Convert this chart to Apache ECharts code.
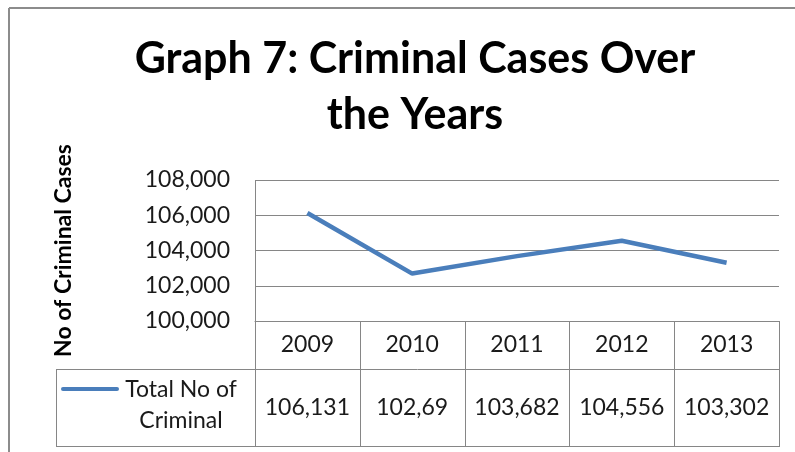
<!DOCTYPE html>
<html>
<head>
<meta charset="utf-8">
<script src="https://cdn.jsdelivr.net/npm/echarts@6/dist/echarts.min.js"></script>
<style>
html,body{margin:0;padding:0;background:#fff;}
#c{width:795px;height:452px;}
</style>
</head>
<body>
<div id="c"></div>
<script>
var years = ['2009', '2010', '2011', '2012', '2013'];
var values = [106131, 102690, 103682, 104556, 103302];
var tableLabels = ['106,131', '102,69', '103,682', '104,556', '103,302'];
var seriesName = 'Total No of Criminal';
var yMin = 100000, yMax = 108000, yStep = 2000;

var FONT = 'Lato';
var TXT = '#1a1a1a';
var GRID_C = '#868686';
var L = 255, T = 180, W = 524, H = 141;
var row1B = 369, row2B = 446, legL = 56;

var chart = echarts.init(document.getElementById('c'));

function fmt(v){ return String(v).replace(/\B(?=(\d{3})+(?!\d))/g, ','); }

var graphics = [];
// outer chart border (top + left)
graphics.push({type:'line', shape:{x1:9, y1:8, x2:800, y2:8}, style:{stroke:'#8c8c8c', lineWidth:2}});
graphics.push({type:'line', shape:{x1:9, y1:8, x2:9, y2:460}, style:{stroke:'#8c8c8c', lineWidth:2}});
// table lines
var cw = W / years.length;
for (var i = 0; i <= years.length; i++) {
  var x = Math.round(L + cw * i) + 0.5;
  graphics.push({type:'line', shape:{x1:x, y1:(i===0?T:T+H), x2:x, y2:row2B}, style:{stroke:GRID_C, lineWidth:1}});
}
graphics.push({type:'line', shape:{x1:legL+0.5, y1:row1B, x2:legL+0.5, y2:row2B}, style:{stroke:GRID_C, lineWidth:1}});
graphics.push({type:'line', shape:{x1:legL, y1:row1B+0.5, x2:L+W, y2:row1B+0.5}, style:{stroke:GRID_C, lineWidth:1}});
graphics.push({type:'line', shape:{x1:legL, y1:row2B+0.5, x2:L+W+1, y2:row2B+0.5}, style:{stroke:GRID_C, lineWidth:1}});
// legend key
graphics.push({type:'line', shape:{x1:63, y1:389, x2:117, y2:389}, style:{stroke:'#4a7ebb', lineWidth:4, lineCap:'round'}});
graphics.push({type:'text', x:181, y:405, style:{text:'Total No of\nCriminal', font:'23px ' + FONT, fill:TXT, align:'center', verticalAlign:'middle', lineHeight:31}});

chart.setOption({
  animation: false,
  backgroundColor: '#fff',
  title: {
    text: 'Graph 7: Criminal Cases Over\nthe Years',
    left: 410, top: 26, textAlign: 'center',
    textStyle: {fontFamily: FONT, fontWeight: 'bold', fontSize: 43, color: '#000', lineHeight: 56}
  },
  grid: {left: L, top: T, width: W, height: H, containLabel: false},
  xAxis: [{
    type: 'category', data: years, boundaryGap: true,
    axisLine: {show: true, lineStyle: {color: GRID_C, width: 1}},
    axisTick: {show: false},
    axisLabel: {fontFamily: FONT, fontSize: 23, color: TXT, margin: 24, verticalAlign: 'middle', interval: 0}
  }, {
    type: 'category', data: tableLabels, position: 'bottom', offset: 87, boundaryGap: true,
    axisLine: {show: false}, axisTick: {show: false},
    axisLabel: {fontFamily: FONT, fontSize: 23, color: TXT, margin: 0, verticalAlign: 'middle', interval: 0, hideOverlap: false}
  }],
  yAxis: {
    type: 'value', min: yMin, max: yMax, interval: yStep,
    name: 'No of Criminal Cases', nameLocation: 'middle', nameGap: 180, nameRotate: 90,
    nameTextStyle: {fontFamily: FONT, fontWeight: 'bold', fontSize: 23, color: '#000'},
    axisLine: {show: false}, axisTick: {show: false},
    axisLabel: {fontFamily: FONT, fontSize: 23, color: TXT, margin: 25, formatter: fmt},
    splitLine: {show: true, lineStyle: {color: GRID_C, width: 1}}
  },
  series: [{
    name: seriesName, type: 'line', data: values, xAxisIndex: 0,
    symbol: 'none', lineStyle: {color: '#4a7ebb', width: 4.5}, itemStyle: {color: '#4a7ebb'}
  }],
  graphic: graphics
});
</script>
</body>
</html>
